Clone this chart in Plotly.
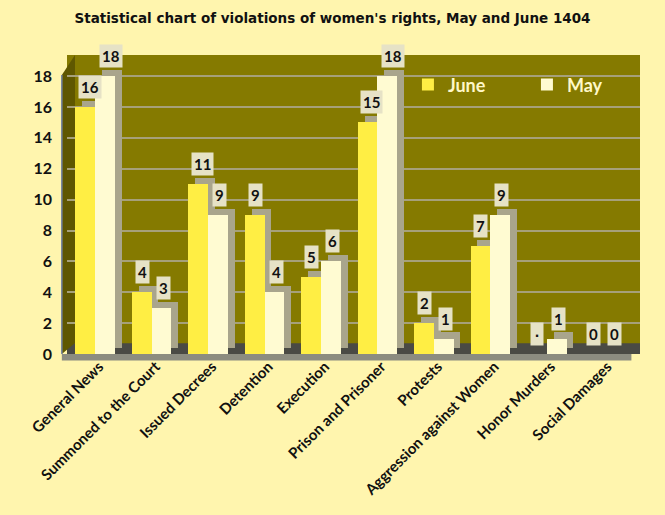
import plotly.graph_objects as go

categories = ["General News", "Summoned to the Court", "Issued Decrees", "Detention",
              "Execution", "Prison and Prisoner", "Protests", "Aggression against Women",
              "Honor Murders", "Social Damages"]
june = [16, 4, 11, 9, 5, 15, 2, 7, 0, 0]
may = [18, 3, 9, 4, 6, 18, 1, 9, 1, 0]
june_labels = ["16", "4", "11", "9", "5", "15", "2", "7", "۰", "0"]
may_labels = ["18", "3", "9", "4", "6", "18", "1", "9", "1", "0"]
y_ticks = [0, 2, 4, 6, 8, 10, 12, 14, 16, 18]

PAPER = "#FFF5AE"
WALL = "#857A00"
SIDEWALL = "#5F5700"
JUNE_C = "#FFEE44"
MAY_C = "#FFFBD2"
SIDE = "#A9A58C"
DEPTH = 0.4

fig = go.Figure()
fig.add_trace(go.Bar(x=categories, y=june, base=DEPTH, offset=-0.23, width=0.35,
                     marker=dict(color=SIDE, line=dict(width=0)), showlegend=False, hoverinfo="skip"))
fig.add_trace(go.Bar(x=categories, y=june, name="June", offset=-0.35, width=0.35,
                     marker=dict(color=JUNE_C, line=dict(width=0))))
fig.add_trace(go.Bar(x=categories, y=may, base=DEPTH, offset=0.12, width=0.35,
                     marker=dict(color=SIDE, line=dict(width=0)), showlegend=False, hoverinfo="skip"))
fig.add_trace(go.Bar(x=categories, y=may, name="May", offset=0.0, width=0.35,
                     marker=dict(color=MAY_C, line=dict(width=0))))
# axis that carries the category labels (slightly shifted, as in the 3D original)
fig.add_trace(go.Scatter(x=list(range(len(categories))), y=[0] * len(categories), xaxis="x2",
                         mode="markers", marker=dict(opacity=0), showlegend=False, hoverinfo="skip"))

ann = []
for i, c in enumerate(categories):
    for val, lab, xs in ((june[i], june_labels[i], -17), (may[i], may_labels[i], 4)):
        ann.append(dict(x=c, y=val, text="<b>" + lab + "</b>", showarrow=False,
                        xref="x", yref="y", xshift=xs, yshift=20, xanchor="left", yanchor="middle",
                        bgcolor="#E6E2C6", borderpad=2,
                        font=dict(family="Lato", size=15, color="#111111")))

fig.update_layout(
    width=665, height=515,
    paper_bgcolor=PAPER, plot_bgcolor=WALL,
    margin=dict(l=67, r=25, t=55, b=161, autoexpand=False),
    title=dict(text="<b>Statistical chart of violations of women's rights, May and June 1404</b>",
               x=0.5, xanchor="center", y=0.965, yanchor="middle", yref="container",
               font=dict(family="DejaVu Sans", size=13.5, color="#111111")),
    barmode="overlay",
    bargap=0,
    showlegend=True,
    legend=dict(orientation="h", x=0.595, y=0.9, xanchor="left", yanchor="middle",
                bgcolor="rgba(0,0,0,0)", font=dict(family="Lato", size=18, color="#FFF8C8", weight="bold"),
                itemwidth=30, entrywidth=74, traceorder="normal"),
    annotations=ann,
    shapes=[dict(type="rect", xref="paper", yref="y", x0=0, x1=1, y0=0, y1=0.7,
                 fillcolor="#4A4A44", line=dict(width=0), layer="below"),
            dict(type="rect", xref="paper", yref="paper", x0=-0.009, x1=0.985, y0=-0.022, y1=0,
                 fillcolor="#8C8C80", line=dict(width=0), layer="below"),
            dict(type="path", xref="paper", yref="paper",
                 path="M -0.009,0 L 0.014,0.037 L 0.014,1 L -0.009,0.933 Z",
                 fillcolor=SIDEWALL, line=dict(width=0), layer="below"),
            dict(type="line", xref="paper", yref="paper", x0=-0.009, x1=-0.009, y0=0, y1=0.933,
                 line=dict(color="#7080A0", width=1.5))],
    xaxis=dict(range=[-0.5, 9.65], showgrid=False, ticks="", showticklabels=False, showline=False),
    xaxis2=dict(overlaying="x", anchor="y", side="bottom", range=[-0.57, 9.58],
                tickvals=list(range(len(categories))), ticktext=categories, tickangle=-45,
                showgrid=False, zeroline=False, ticks="", showline=False,
                tickfont=dict(family="Lato", size=15, color="#111111", weight="bold")),
    yaxis=dict(range=[0, 19.37], tickvals=y_ticks, showgrid=True, gridcolor="#A6A07A", gridwidth=1.5,
               zeroline=False, showline=False, ticklabelstandoff=14,
               tickfont=dict(family="Lato", size=16, color="#111111", weight="bold"), ticks=""),
)

fig.write_html("out.html", config={"displayModeBar": False},
               post_script="document.body.style.margin='0';document.body.style.overflow='hidden';")
